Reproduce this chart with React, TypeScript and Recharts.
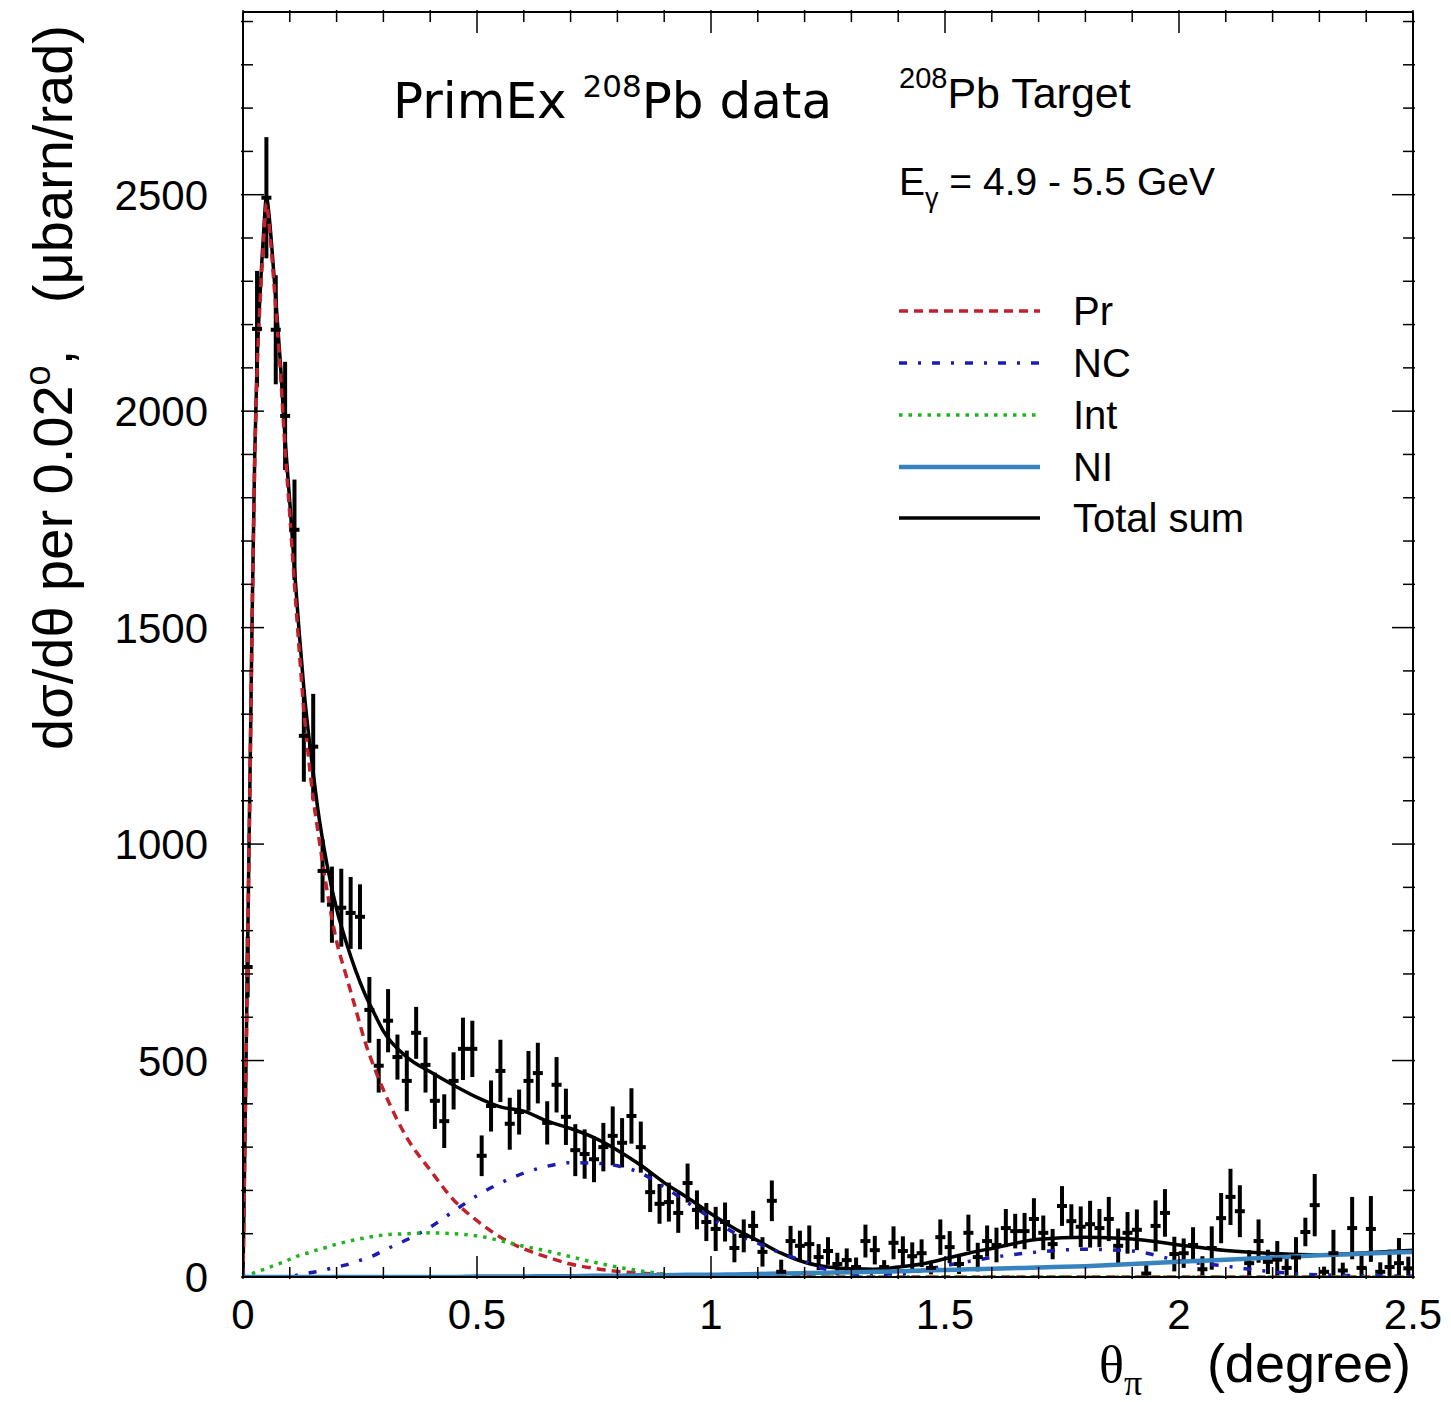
import { ComposedChart, Line, Scatter, ErrorBar, XAxis, YAxis, Legend } from "recharts"

const SANS = "'Liberation Sans', Arial, sans-serif"
const SERIF = "'Liberation Serif', 'Times New Roman', serif"
const COMIC = "'Comic Sans MS', 'DejaVu Sans', sans-serif"

// measured counts per 0.02 deg bin (ubarn/rad)
const BIN = 0.02
const counts = [
  716, 2190, 2493, 2188, 1989, 1726, 1250, 1225, 938, 860,
  853, 841, 832, 617, 488, 592, 508, 453, 564, 490,
  407, 360, 453, 527, 527, 280, 395, 476, 354, 381,
  453, 471, 356, 444, 370, 293, 284, 272, 300, 326,
  310, 372, 300, 196, 169, 173, 148, 217, 155, 127,
  111, 127, 67, 95, 118, 58, 176, 12, 83, 72,
  76, 46, 60, 30, 39, 23, 83, 62, 23, 79,
  60, 48, 55, 21, 92, 69, 30, 102, 46, 83,
  74, 113, 106, 106, 134, 102, 76, 164, 129, 116,
  122, 113, 134, 72, 102, 109, 8, 118, 148, 53,
  55, 74, 18, 67, 136, 185, 152, 32, 83, 35,
  40, 21, 45, 104, 166, 12, 55, 15, 113, 21,
  111, 12, 23, 32, 20,
]
const errors = [
  70, 134, 140, 126, 125, 116, 106, 122, 73, 88,
  90, 83, 75, 76, 62, 73, 52, 70, 60, 64,
  65, 62, 66, 72, 65, 47, 59, 72, 60, 52,
  69, 70, 50, 64, 65, 60, 57, 53, 56, 68,
  57, 64, 59, 46, 46, 45, 46, 45, 45, 44,
  51, 45, 33, 38, 35, 34, 47, 28, 35, 35,
  43, 30, 32, 26, 27, 22, 38, 33, 16, 38,
  34, 32, 32, 15, 41, 37, 23, 42, 33, 36,
  40, 44, 40, 42, 48, 40, 35, 46, 39, 47,
  54, 44, 51, 40, 48, 47, 23, 59, 55, 40,
  34, 41, 30, 50, 58, 65, 60, 30, 50, 28,
  43, 32, 47, 33, 72, 12, 54, 18, 72, 36,
  76, 22, 40, 58, 27,
]

// fit components
const fitX = [
  0, 0.005, 0.01, 0.015, 0.02, 0.025, 0.03, 0.035, 0.04, 0.045, 0.05, 0.055, 0.06, 0.065, 0.07,
  0.08, 0.09, 0.1, 0.11, 0.12, 0.13, 0.14, 0.15, 0.16,
  0.18, 0.2, 0.22, 0.24, 0.26, 0.28, 0.3,
  0.35, 0.4, 0.45, 0.5, 0.55, 0.6, 0.65, 0.7, 0.75, 0.8, 0.85, 0.9, 0.95, 1.0, 1.05, 1.1, 1.15, 1.2,
  1.25, 1.3, 1.35, 1.4, 1.45, 1.5, 1.55, 1.6,
  1.7, 1.8, 1.9, 2.0, 2.1, 2.2, 2.3, 2.4, 2.5,
]
const fitPr = [
  0, 380, 760, 1150, 1550, 1880, 2090, 2220, 2320, 2410, 2480, 2440, 2380, 2310, 2240,
  2090, 1910, 1760, 1600, 1450, 1310, 1200, 1105, 1030,
  890, 775, 698, 622, 546, 485, 432,
  322, 247, 178, 130, 92, 65, 46, 30, 20, 13, 9, 6, 4, 3, 2, 1, 1, 1,
  0, 0, 0, 0, 0, 0, 0, 0,
  0, 0, 0, 0, 0, 0, 0, 0, 0,
]
const fitNC = [
  0, 0, 0, 0, 0, 0, 0, 0, 0, 0, 0, 0, 0, 0, 0,
  0, 0, 1, 3, 5, 7, 9, 11, 13,
  18, 23, 28, 35, 42, 50, 61,
  86, 115, 152, 188, 217, 240, 256, 264, 263, 257, 240, 208, 172, 136, 102, 78, 55, 36,
  16, 7, 5, 6, 15, 26, 36, 45,
  58, 64, 60, 38, 25, 12, 5, 3, 2,
]
const fitInt = [
  0, 2, 4, 6, 8, 10, 12, 14, 16, 18, 20, 22, 24, 26, 28,
  32, 36, 41, 45, 50, 53, 56, 60, 63,
  69, 76, 81, 86, 90, 94, 97,
  100, 102, 100, 95, 84, 71, 60, 47, 34, 23, 14, 7, 3, 1, 0, 0, 0, 0,
  0, 0, 0, 0, 0, 0, 0, 0,
  0, 0, 0, 0, 0, 0, 0, 0, 0,
]
const fitNI = [
  0, 0, 0, 0, 0, 0, 0, 0, 0, 0, 0, 0, 0, 0, 0,
  0, 0, 0, 0, 0, 0, 0, 0, 0,
  0, 0, 0, 0, 0, 0, 0,
  0, 0, 0, 1, 1, 1, 2, 2, 3, 3, 4, 4, 5, 5, 6, 7, 8, 9,
  10, 11, 12, 13, 15, 16, 18, 19,
  22, 25, 30, 35, 40, 45, 50, 54, 58,
]
const fitTotal = [
  0, 385, 770, 1160, 1560, 1895, 2110, 2240, 2340, 2430, 2495, 2460, 2400, 2330, 2260,
  2110, 1935, 1790, 1635, 1490, 1360, 1255, 1165, 1080,
  950, 850, 775, 710, 655, 610, 568,
  508, 474, 443, 415, 393, 383, 360, 343, 322, 293, 258, 218, 183, 146, 112, 84, 55, 34,
  23, 19, 18, 23, 30, 42, 55, 66,
  87, 92, 88, 74, 61, 54, 51, 56, 62,
]

const xMajor = [0, 0.5, 1, 1.5, 2, 2.5]
const xTicks = [
  0, 0.1, 0.2, 0.3, 0.4, 0.5, 0.6, 0.7, 0.8, 0.9, 1, 1.1, 1.2, 1.3, 1.4, 1.5, 1.6, 1.7, 1.8, 1.9,
  2, 2.1, 2.2, 2.3, 2.4, 2.5,
]
const yMajor = [0, 500, 1000, 1500, 2000, 2500]
const yTicks = [
  0, 100, 200, 300, 400, 500, 600, 700, 800, 900, 1000, 1100, 1200, 1300, 1400, 1500, 1600, 1700,
  1800, 1900, 2000, 2100, 2200, 2300, 2400, 2500, 2600, 2700, 2800, 2900,
]
const Y_MAX = 2922

const points = counts.map((y, i) => ({
  x: +(BIN / 2 + BIN * i).toFixed(3),
  y,
  err: [Math.min(errors[i], y), errors[i]],
}))

const fitData = fitX.map((x, i) => ({
  x,
  pr: fitPr[i],
  nc: fitNC[i],
  int: fitInt[i],
  ni: fitNI[i],
  tot: fitTotal[i],
}))

const series = [
  { key: "pr", name: "Pr", color: "#c0212b", width: 3.5, dash: "9 6" },
  { key: "nc", name: "NC", color: "#1c1cb0", width: 3.5, dash: "8 11 3 11" },
  { key: "int", name: "Int", color: "#1fb41f", width: 3.5, dash: "3.5 6" },
  { key: "ni", name: "NI", color: "#3783bf", width: 4.5, dash: undefined },
  { key: "tot", name: "Total sum", color: "#000000", width: 3.5, dash: undefined },
]

const isIn = (arr: number[], v: number) => arr.some((m) => Math.abs(m - v) < 1e-6)

function BottomTick(props: any) {
  const { x, y, payload } = props
  const major = isIn(xMajor, payload.value)
  return (
    <g>
      <line x1={x} x2={x} y1={y} y2={y - (major ? 23 : 12)} stroke="#000" strokeWidth={1.5} />
      {major && (
        <text x={x} y={y + 50} textAnchor="middle" fontSize={42} fontFamily={SANS} fill="#000">
          {payload.value}
        </text>
      )}
    </g>
  )
}

function TopTick(props: any) {
  const { x, y, payload } = props
  const major = isIn(xMajor, payload.value)
  return <line x1={x} x2={x} y1={y} y2={y + (major ? 23 : 12)} stroke="#000" strokeWidth={1.5} />
}

function LeftTick(props: any) {
  const { x, y, payload } = props
  const major = isIn(yMajor, payload.value)
  return (
    <g>
      <line x1={x} x2={x + (major ? 23 : 12)} y1={y} y2={y} stroke="#000" strokeWidth={1.5} />
      {major && (
        <text x={x - 33} y={y + 15} textAnchor="end" fontSize={42} fontFamily={SANS} fill="#000">
          {payload.value}
        </text>
      )}
    </g>
  )
}

function RightTick(props: any) {
  const { x, y, payload } = props
  const major = isIn(yMajor, payload.value)
  return <line x1={x} x2={x - (major ? 23 : 12)} y1={y} y2={y} stroke="#000" strokeWidth={1.5} />
}

function Marker(props: any) {
  const { cx, cy } = props
  return <line x1={cx - 5} x2={cx + 5} y1={cy} y2={cy} stroke="#000" strokeWidth={4} />
}

function LegendBox() {
  const rows = [series[0], series[1], series[2], series[3], series[4]]
  const rowY = [31, 83, 135, 187, 238]
  return (
    <svg width={400} height={260}>
      {rows.map((s, i) => (
        <g key={s.key}>
          <line
            x1={4}
            x2={145}
            y1={rowY[i]}
            y2={rowY[i]}
            stroke={s.color}
            strokeWidth={s.width}
            strokeDasharray={s.dash}
          />
          <text x={178} y={rowY[i] + 14} fontSize={40} fontFamily={SANS} fill="#000">
            {s.name}
          </text>
        </g>
      ))}
    </svg>
  )
}

export default function App() {
  const axisLine = { stroke: "#000", strokeWidth: 2 }
  return (
    <div style={{ position: "relative", width: 1451, height: 1402, background: "#fff" }}>
      <style>{"body{margin:0;background:#fff}"}</style>
      <ComposedChart width={1451} height={1402} margin={{ top: 11, right: 37, bottom: 0, left: 0 }}>
        <XAxis
          xAxisId={0}
          dataKey="x"
          type="number"
          domain={[0, 2.5]}
          allowDataOverflow
          ticks={xTicks}
          interval={0}
          tickSize={0}
          tickLine={false}
          tick={(p: any) => <BottomTick {...p} />}
          height={125}
          axisLine={axisLine}
        />
        <XAxis
          xAxisId="top"
          orientation="top"
          dataKey="x"
          type="number"
          domain={[0, 2.5]}
          allowDataOverflow
          ticks={xTicks}
          interval={0}
          tickSize={0}
          tickLine={false}
          tick={(p: any) => <TopTick {...p} />}
          height={1}
          axisLine={axisLine}
        />
        <YAxis
          yAxisId={0}
          dataKey="y"
          type="number"
          domain={[0, Y_MAX]}
          allowDataOverflow
          ticks={yTicks}
          interval={0}
          tickSize={0}
          tickLine={false}
          tick={(p: any) => <LeftTick {...p} />}
          width={243}
          axisLine={axisLine}
        />
        <YAxis
          yAxisId="right"
          orientation="right"
          dataKey="y"
          type="number"
          domain={[0, Y_MAX]}
          allowDataOverflow
          ticks={yTicks}
          interval={0}
          tickSize={0}
          tickLine={false}
          tick={(p: any) => <RightTick {...p} />}
          width={1}
          axisLine={axisLine}
        />
        <Legend
          layout="vertical"
          align="center"
          verticalAlign="middle"
          wrapperStyle={{ left: 895, top: 280, width: 400, height: 260 }}
          content={() => <LegendBox />}
        />
        {/* invisible series so the frame axes (top / right) get drawn */}
        <Line
          xAxisId="top"
          yAxisId="right"
          data={fitData}
          dataKey="tot"
          stroke="none"
          dot={false}
          activeDot={false}
          legendType="none"
          isAnimationActive={false}
        />
        <Scatter
          xAxisId={0}
          yAxisId={0}
          data={points}
          dataKey="y"
          shape={(p: any) => <Marker {...p} />}
          fill="#000"
          legendType="none"
          isAnimationActive={false}
        >
          <ErrorBar dataKey="err" direction="y" width={0} stroke="#000" strokeWidth={4} isAnimationActive={false} />
        </Scatter>
        {[series[4], series[0], series[1], series[2], series[3]].map((s) => (
          <Line
            key={s.key}
            xAxisId={0}
            yAxisId={0}
            data={fitData}
            dataKey={s.key}
            name={s.name}
            type="monotone"
            stroke={s.color}
            strokeWidth={s.width}
            strokeDasharray={s.dash}
            dot={false}
            activeDot={false}
            isAnimationActive={false}
          />
        ))}
      </ComposedChart>
      <svg
        width={1451}
        height={1402}
        style={{ position: "absolute", left: 0, top: 0, pointerEvents: "none" }}
      >
        <text x={393} y={118} fontSize={50} fontFamily={COMIC} fill="#000">
          PrimEx{"\u00a0"}
          <tspan fontSize={31} dy={-21}>208</tspan>
          <tspan dy={21}>Pb data</tspan>
        </text>
        <text x={899} y={108} fontSize={43} fontFamily={SANS} fill="#000">
          <tspan fontSize={29} dy={-20}>208</tspan>
          <tspan dy={20}>Pb Target</tspan>
        </text>
        <text x={899} y={195} fontSize={39} fontFamily={SANS} fill="#000">
          E<tspan fontSize={27} dy={12}>γ</tspan>
          <tspan dy={-12}>{"\u00a0= 4.9 - 5.5 GeV"}</tspan>
        </text>
        <text x={1099} y={1382} fontSize={52} fontFamily={SERIF} fill="#000">
          θ<tspan fontSize={36} dy={13}>π</tspan>
        </text>
        <text x={1411} y={1382} textAnchor="end" fontSize={54} fontFamily={SANS} fill="#000">
          (degree)
        </text>
        <text transform="translate(72, 750) rotate(-90)" fontSize={56} fontFamily={SANS} fill="#000">
          dσ/dθ per 0.02
          <tspan fontSize={36} dy={-22}>o</tspan>
          <tspan dy={22}>{",\u00a0\u00a0\u00a0(μbarn/rad)"}</tspan>
        </text>
      </svg>
    </div>
  )
}
